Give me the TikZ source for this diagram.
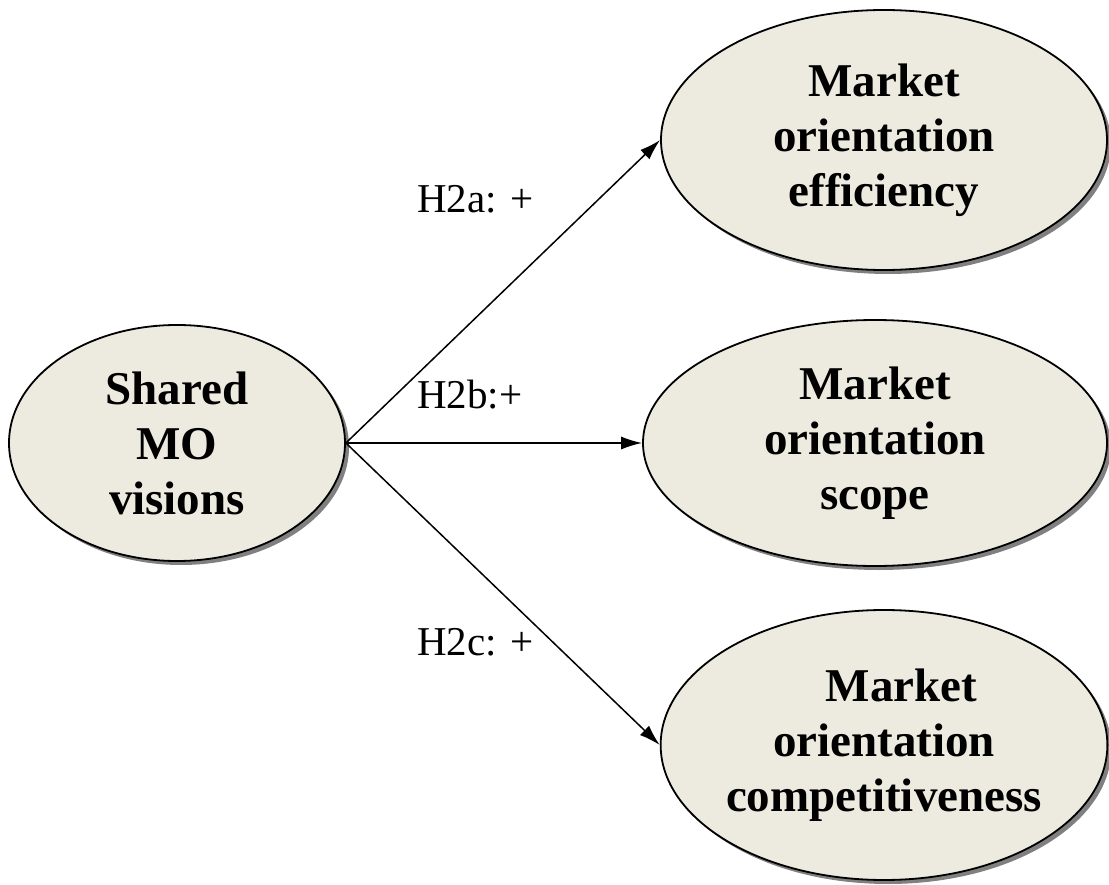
\documentclass[tikz,border=0pt]{standalone}
\usepackage{fontspec}
\setmainfont{Liberation Serif}
\usetikzlibrary{shapes.geometric, arrows.meta, shadows}
\definecolor{ovalfill}{RGB}{237,235,224}

\begin{document}
\begin{tikzpicture}[x=1pt, y=-1pt, >={Latex[length=21pt,width=13pt]}]

% Stili
\tikzstyle{oval} = [ellipse, draw, line width=1.8pt, fill=ovalfill, inner sep=0pt,
    align=center, font=\fontsize{47}{55}\selectfont\bfseries,
    drop shadow={shadow xshift=4pt, shadow yshift=-4pt, fill=black!50, opacity=1}]
\tikzstyle{arrow} = [line width=1.5pt, ->]
\tikzstyle{hyp} = [anchor=base west, inner sep=0pt, font=\fontsize{41}{48}\selectfont]

\useasboundingbox (0,0) rectangle (1109,885);

% Nodi
\node (shared) [oval, minimum width=336pt, minimum height=236pt] at (177,443) {Shared\\MO\\visions};
\node (efficiency) [oval, minimum width=446pt, minimum height=260pt] at (884,140) {Market\\orientation\\efficiency};
\node (scope) [oval, minimum width=464pt, minimum height=246pt] at (875,443) {Market\\orientation\\scope};
\node (compet) [oval, minimum width=446pt, minimum height=270pt] at (884,745) {\hspace*{0.75em}Market\\orientation\\competitiveness};

% Etichette
\node (h2a) [hyp] at (417,213) {H2a: +};
\node (h2b) [hyp] at (417,408) {H2b:+};
\node (h2c) [hyp] at (417,655) {H2c: +};

% Frecce
\draw [arrow] (shared.east) -- (efficiency.west);
\draw [arrow] (shared.east) -- (scope.west);
\draw [arrow] (shared.east) -- (compet.west);

\end{tikzpicture}
\end{document}
